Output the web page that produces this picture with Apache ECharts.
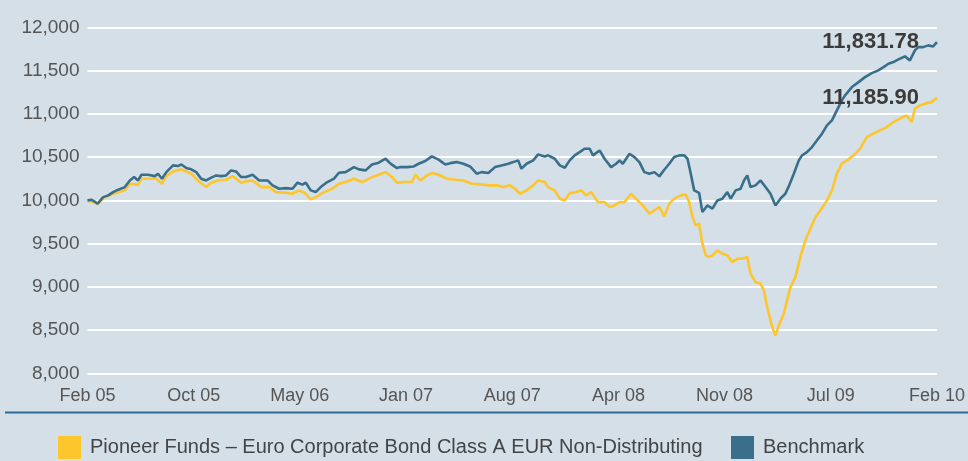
<!DOCTYPE html>
<html>
<head>
<meta charset="utf-8">
<script src="https://cdn.jsdelivr.net/npm/echarts@6/dist/echarts.min.js"></script>
<style>
  html, body { margin: 0; padding: 0; background: #d5dfe7; }
  #chart { width: 968px; height: 461px; }
</style>
</head>
<body>
<div id="chart"></div>
<script>
// x is months since Feb 05 (0..60), ticks every 7.5 months
let tickLabels = ['Feb 05', 'Oct 05', 'May 06', 'Jan 07', 'Aug 07', 'Apr 08', 'Nov 08', 'Jul 09', 'Feb 10'];
let seriesNames = ['Pioneer Funds – Euro Corporate Bond Class A EUR Non-Distributing', 'Benchmark'];

let fundMonths = [0, 0.72, 1.11, 1.81, 2.64, 2.99, 3.57, 3.81, 4.28, 4.87, 5.26, 5.57, 6.04, 6.63, 7.33, 7.91, 8.38, 8.74, 9.20, 9.79,
    10.26, 10.85, 11.20, 11.66, 12.25, 12.84, 13.31, 14.01, 14.48, 14.95, 15.42, 15.77, 16.12, 16.71, 17.29, 17.76, 18.23, 18.82, 19.40, 20.10,
    20.57, 21.05, 21.51, 21.86, 22.33, 22.92, 23.16, 23.51, 23.97, 24.32, 24.80, 25.38, 25.97, 26.55, 27.14, 27.73, 28.43, 28.90, 29.37, 29.84,
    30.19, 30.54, 31.01, 31.48, 31.83, 32.30, 32.53, 33.00, 33.36, 33.71, 34.06, 34.52, 34.87, 35.23, 35.58, 36.05, 36.52, 36.87, 37.22, 37.58,
    37.93, 38.39, 38.74, 39.22, 39.69, 40.04, 40.39, 40.74, 41.09, 41.44, 41.91, 42.26, 42.50, 42.73, 42.96, 43.20, 43.43, 43.67, 43.91, 44.14,
    44.49, 44.84, 45.19, 45.54, 45.90, 46.25, 46.60, 46.83, 47.18, 47.54, 47.77, 48.01, 48.36, 48.59, 48.83, 49.18, 49.41, 49.65, 50.00, 50.35,
    50.70, 51.05, 51.41, 51.76, 52.23, 52.58, 52.93, 53.28, 53.64, 54.11, 54.57, 55.04, 55.51, 55.98, 56.45, 56.92, 57.38, 57.85, 58.21, 58.44,
    58.79, 59.26, 59.61, 60];
let fundValues = [10000, 9960, 10027, 10077, 10116, 10193, 10182, 10251, 10251, 10251, 10193, 10281, 10335, 10359, 10309, 10212, 10154, 10205, 10231, 10239,
    10281, 10205, 10220, 10231, 10154, 10154, 10096, 10089, 10077, 10116, 10077, 10012, 10038, 10096, 10135, 10193, 10212, 10251, 10212, 10270,
    10297, 10327, 10270, 10205, 10212, 10212, 10297, 10231, 10289, 10316, 10297, 10251, 10239, 10231, 10193, 10185, 10174, 10174, 10154, 10174,
    10135, 10077, 10116, 10174, 10231, 10212, 10154, 10116, 10020, 10000, 10084, 10096, 10116, 10058, 10096, 9980, 9980, 9922, 9942, 9980,
    9980, 10077, 10020, 9942, 9846, 9884, 9922, 9815, 9962, 10020, 10058, 10069, 9980, 9807, 9711, 9730, 9499, 9364, 9344, 9364,
    9422, 9383, 9364, 9286, 9326, 9326, 9344, 9152, 9055, 9036, 8959, 8766, 8534, 8438, 8554, 8689, 8843, 8997, 9113, 9344,
    9537, 9673, 9803, 9884, 10000, 10116, 10309, 10425, 10463, 10521, 10598, 10732, 10772, 10810, 10848, 10906, 10945, 10983, 10906, 11061,
    11099, 11125, 11137, 11185.90];

let benchMonths = [0, 0.30, 0.72, 1.11, 1.46, 1.81, 2.17, 2.64, 2.99, 3.29, 3.57, 3.81, 4.28, 4.75, 4.98, 5.26, 5.57, 6.04, 6.39, 6.63,
    6.98, 7.33, 7.68, 8.03, 8.38, 8.74, 9.09, 9.44, 9.79, 10.14, 10.49, 10.85, 11.20, 11.66, 12.13, 12.72, 13.07, 13.54, 14.01, 14.48,
    14.83, 15.18, 15.42, 15.77, 16.12, 16.47, 16.94, 17.41, 17.76, 18.23, 18.82, 19.17, 19.64, 20.10, 20.57, 21.05, 21.40, 21.86, 22.10, 22.57,
    23.04, 23.39, 23.86, 24.32, 24.80, 25.27, 25.62, 26.08, 26.55, 27.02, 27.49, 27.84, 28.31, 28.78, 29.25, 29.72, 30.07, 30.42, 30.65, 31.01,
    31.48, 31.83, 32.30, 32.53, 33.00, 33.36, 33.71, 34.06, 34.41, 34.76, 35.11, 35.47, 35.70, 36.17, 36.52, 36.98, 37.34, 37.58, 37.81, 38.28,
    38.63, 38.98, 39.33, 39.69, 40.04, 40.39, 40.74, 41.09, 41.44, 41.80, 42.15, 42.38, 42.61, 42.85, 43.20, 43.43, 43.78, 44.14, 44.49, 44.84,
    45.19, 45.43, 45.78, 46.13, 46.37, 46.60, 46.83, 47.18, 47.54, 47.89, 48.24, 48.59, 48.94, 49.29, 49.53, 49.89, 50.24, 50.47, 50.82, 51.17,
    51.52, 51.88, 52.23, 52.58, 52.93, 53.28, 53.51, 53.99, 54.46, 54.92, 55.39, 55.86, 56.22, 56.57, 56.92, 57.38, 57.74, 58.09, 58.44, 58.68,
    59.03, 59.38, 59.73, 60];
let benchValues = [10000, 10008, 9962, 10038, 10058, 10096, 10124, 10154, 10231, 10270, 10231, 10297, 10297, 10281, 10309, 10251, 10327, 10405, 10397, 10416,
    10374, 10359, 10327, 10251, 10231, 10263, 10289, 10281, 10289, 10347, 10335, 10270, 10270, 10297, 10231, 10231, 10174, 10135, 10142, 10135,
    10205, 10182, 10205, 10116, 10096, 10154, 10212, 10251, 10320, 10327, 10385, 10359, 10347, 10416, 10436, 10482, 10425, 10374, 10385, 10385,
    10393, 10424, 10455, 10509, 10471, 10416, 10431, 10443, 10424, 10393, 10309, 10327, 10316, 10385, 10405, 10424, 10443, 10463, 10367, 10424,
    10463, 10532, 10509, 10521, 10482, 10405, 10378, 10463, 10521, 10559, 10598, 10598, 10521, 10578, 10482, 10385, 10424, 10463, 10424, 10540,
    10501, 10443, 10327, 10309, 10327, 10278, 10355, 10424, 10501, 10521, 10521, 10482, 10309, 10116, 10087, 9865, 9942, 9904, 10000, 10020,
    10096, 10020, 10116, 10135, 10231, 10289, 10154, 10174, 10231, 10154, 10077, 9942, 10020, 10077, 10162, 10309, 10463, 10521, 10559, 10617,
    10694, 10772, 10868, 10925, 11041, 11157, 11215, 11311, 11368, 11426, 11472, 11504, 11542, 11581, 11600, 11639, 11666, 11619, 11735, 11773,
    11773, 11793, 11781, 11831.78];

let colors = ['#fdc62c', '#396f8a'];
let font = '"Liberation Sans", Arial, sans-serif';

function fmt(v) {
    return v.toLocaleString('en-US', {minimumFractionDigits: 2, maximumFractionDigits: 2});
}

function makeSeries(name, xs, ys, color) {
    let last = ys.length - 1;
    return {
        name: name,
        type: 'line',
        symbol: 'none',
        animation: false,
        lineStyle: { color: color, width: 2.6 },
        itemStyle: { color: color },
        data: xs.map((x, i) => [x, ys[i]]),
        markPoint: {
            symbol: 'circle',
            symbolSize: 0,
            label: {
                show: true,
                position: 'left',
                distance: 18,
                formatter: fmt(ys[last]),
                fontFamily: font,
                fontWeight: 'bold',
                fontSize: 22,
                color: '#3b3b3b'
            },
            data: [{ coord: [xs[last], ys[last]] }]
        }
    }
}

let chart = echarts.init(document.getElementById('chart'));
chart.setOption({
    backgroundColor: '#d5dfe7',
    animation: false,
    grid: { left: 87.5, right: 28, top: 27.5, bottom: 87.7 },
    xAxis: {
        type: 'value',
        min: 0,
        max: 60,
        interval: 7.5,
        axisLine: { show: false },
        axisTick: { show: false },
        splitLine: { show: false },
        axisLabel: {
            margin: 14,
            fontFamily: font,
            fontSize: 18,
            color: '#555',
            showMaxLabel: true,
            hideOverlap: false,
            formatter: v => tickLabels[Math.round(v / 7.5)]
        }
    },
    yAxis: {
        type: 'value',
        min: 8000,
        max: 12000,
        interval: 500,
        axisLine: { show: false },
        axisTick: { show: false },
        splitLine: { lineStyle: { color: '#ffffff', width: 2 } },
        axisLabel: {
            margin: 8,
            fontFamily: font,
            fontSize: 19,
            color: '#555',
            formatter: v => v.toLocaleString('en-US')
        }
    },
    legend: [
        {
            left: 58, top: 436, padding: 0,
            itemWidth: 23, itemHeight: 23, icon: 'rect',
            selectedMode: false,
            data: [seriesNames[0]],
            textStyle: { fontFamily: font, fontSize: 20, color: '#444', padding: [6, 0, 0, 4] }
        },
        {
            left: 731, top: 436, padding: 0,
            itemWidth: 23, itemHeight: 23, icon: 'rect',
            selectedMode: false,
            data: [seriesNames[1]],
            textStyle: { fontFamily: font, fontSize: 20, color: '#444', padding: [6, 0, 0, 4] }
        }
    ],
    graphic: [
        {
            type: 'line',
            shape: { x1: 5, y1: 412.5, x2: 968, y2: 412.5 },
            style: { stroke: '#2f6a94', lineWidth: 2 }
        }
    ],
    series: [
        makeSeries(seriesNames[0], fundMonths, fundValues, colors[0]),
        makeSeries(seriesNames[1], benchMonths, benchValues, colors[1])
    ]
});
</script>
</body>
</html>
